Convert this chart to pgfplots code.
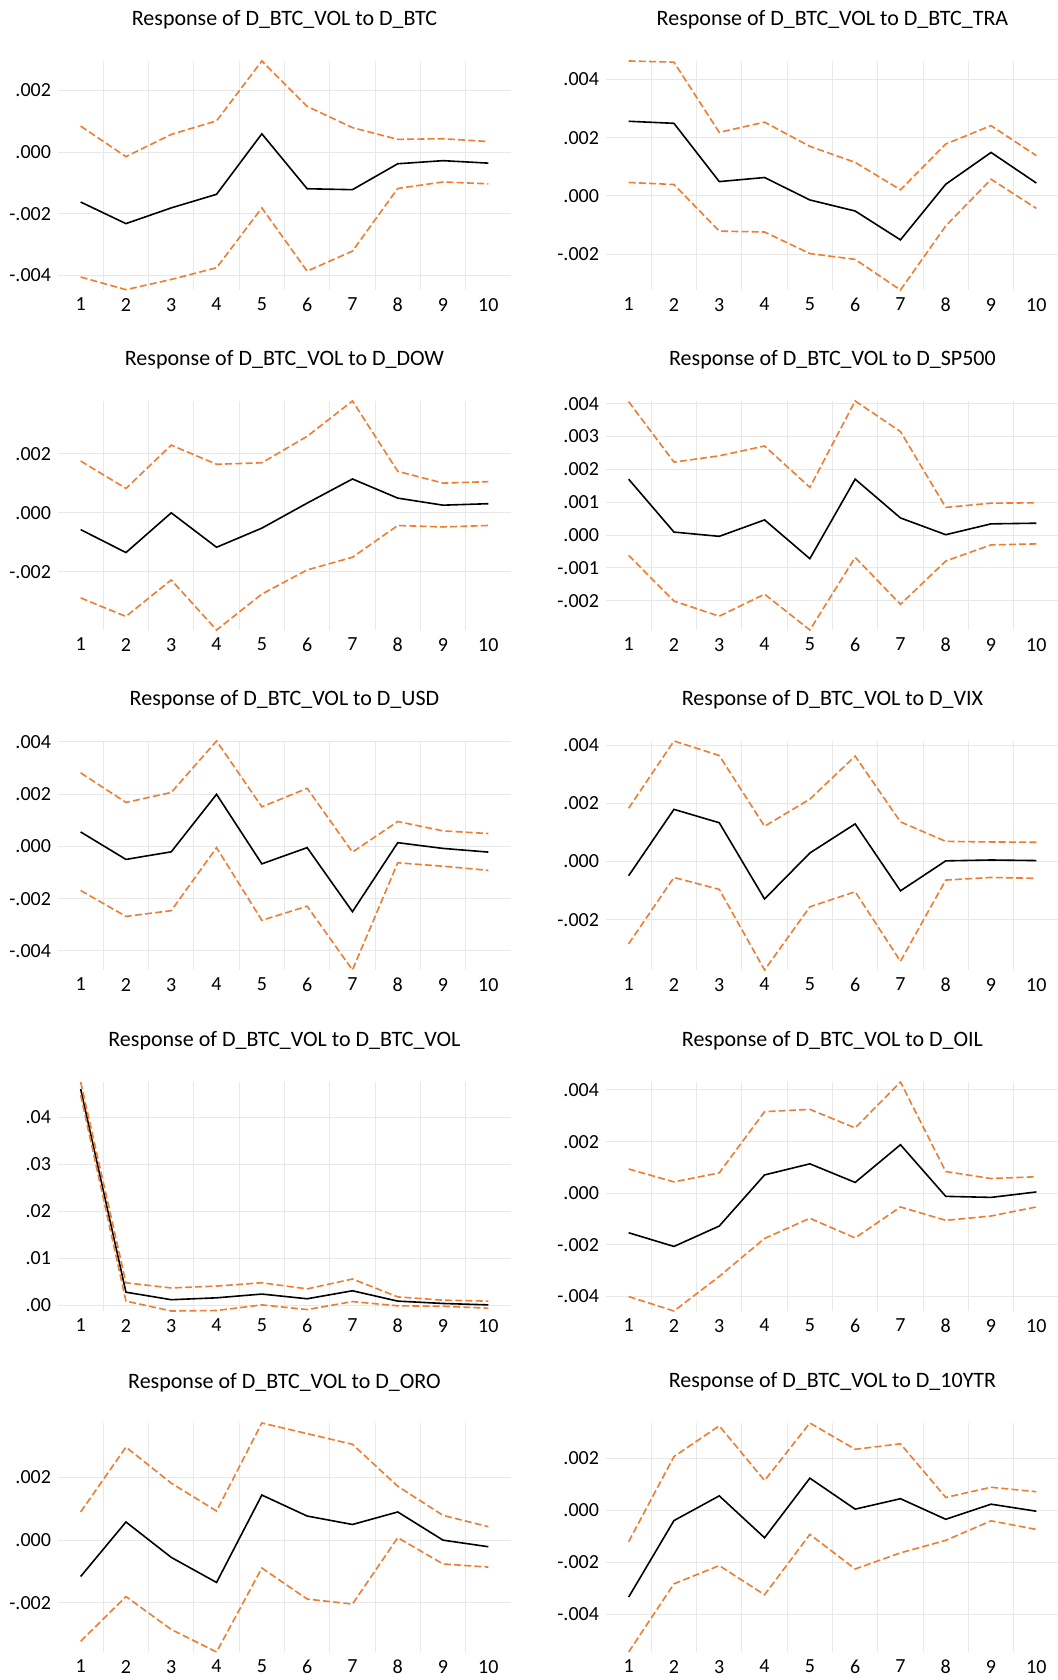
\documentclass[border=0pt]{standalone}
\usepackage{fontspec}
\setmainfont{Carlito}
\usepackage{pgfplots}
\pgfplotsset{compat=1.18}
\definecolor{irforange}{RGB}{237,125,49}
\pgfplotsset{
 irf/.style={
  scale only axis, width=226.5pt, height=114.5pt,
  xmin=0.5, xmax=10.5,
  scaled y ticks=false, scaled x ticks=false,
  xtick={1,2,3,4,5,6,7,8,9,10}, xticklabels={1,2,3,4,5,6,7,8,9,10},
  minor xtick={1.5,2.5,3.5,4.5,5.5,6.5,7.5,8.5,9.5},
  xminorgrids, ymajorgrids,
  major grid style={draw=black!9, line width=0.5pt},
  minor grid style={draw=black!9, line width=0.5pt},
  axis line style={draw=none},
  major tick length=0pt, minor tick length=0pt,
  tick style={draw=none},
  ticklabel style={font=\fontsize{10}{12}\selectfont},
  yticklabel style={anchor=east, xshift=0pt},
  xticklabel style={anchor=north, yshift=-0.5pt},
  title style={at={(0.5,1)}, anchor=base, yshift=11.5pt, font=\fontsize{11}{13}\selectfont},
  extra y ticks={0}, extra y tick labels={},
  extra y tick style={grid style={draw=black!28, line width=0.8pt}},
  clip=false,
 },
 resp/.style={black, line width=0.8pt, no marks},
 band/.style={irforange, line width=0.8pt, no marks, dash pattern=on 3.5pt off 1.6pt},
}
\begin{document}
\begin{tikzpicture}
\useasboundingbox (0,0) rectangle (528.5pt,840pt);
% Row 1 left: D_BTC
\begin{axis}[irf, at={(29pt,695pt)}, anchor=south west,
  title={Response of D\_BTC\_VOL to D\_BTC},
  ymin=-0.00447, ymax=0.00295,
  ytick={-0.004,-0.002,0,0.002}, yticklabels={-.004,-.002,.000,.002}]
\addplot[resp] coordinates {(1,-0.00162) (2,-0.00232) (3,-0.00181) (4,-0.00137) (5,0.00059) (6,-0.00119) (7,-0.00122) (8,-0.00038) (9,-0.00028) (10,-0.00036)};
\addplot[band] coordinates {(1,0.00084) (2,-0.00015) (3,0.00057) (4,0.00101) (5,0.00295) (6,0.00148) (7,0.00079) (8,0.00041) (9,0.00043) (10,0.00034)};
\addplot[band] coordinates {(1,-0.00405) (2,-0.00446) (3,-0.00413) (4,-0.00375) (5,-0.00181) (6,-0.00386) (7,-0.00321) (8,-0.00118) (9,-0.00097) (10,-0.00103)};
\end{axis}
% Row 1 right: D_BTC_TRA
\begin{axis}[irf, at={(303pt,695pt)}, anchor=south west,
  title={Response of D\_BTC\_VOL to D\_BTC\_TRA},
  ymin=-0.00323, ymax=0.00463,
  ytick={-0.002,0,0.002,0.004}, yticklabels={-.002,.000,.002,.004}]
\addplot[resp] coordinates {(1,0.00256) (2,0.00249) (3,0.00049) (4,0.00063) (5,-0.00014) (6,-0.00052) (7,-0.00151) (8,0.00040) (9,0.00149) (10,0.00044)};
\addplot[band] coordinates {(1,0.00463) (2,0.00459) (3,0.00218) (4,0.00253) (5,0.00170) (6,0.00115) (7,0.00021) (8,0.00178) (9,0.00241) (10,0.00138)};
\addplot[band] coordinates {(1,0.00046) (2,0.00039) (3,-0.00121) (4,-0.00124) (5,-0.00198) (6,-0.00218) (7,-0.00323) (8,-0.00103) (9,0.00057) (10,-0.00043)};
\end{axis}
% Row 2 left: D_DOW
\begin{axis}[irf, at={(29pt,525pt)}, anchor=south west,
  title={Response of D\_BTC\_VOL to D\_DOW},
  ymin=-0.00398, ymax=0.00380,
  ytick={-0.002,0,0.002}, yticklabels={-.002,.000,.002}]
\addplot[resp] coordinates {(1,-0.00057) (2,-0.00135) (3,0.0) (4,-0.00117) (5,-0.00052) (6,0.00033) (7,0.00115) (8,0.00050) (9,0.00026) (10,0.00031)};
\addplot[band] coordinates {(1,0.00176) (2,0.00083) (3,0.00230) (4,0.00165) (5,0.00170) (6,0.00260) (7,0.00380) (8,0.00141) (9,0.00101) (10,0.00106)};
\addplot[band] coordinates {(1,-0.00289) (2,-0.00352) (3,-0.00228) (4,-0.00398) (5,-0.00276) (6,-0.00194) (7,-0.00151) (8,-0.00043) (9,-0.00048) (10,-0.00043)};
\end{axis}
% Row 2 right: D_SP500
\begin{axis}[irf, at={(303pt,525pt)}, anchor=south west,
  title={Response of D\_BTC\_VOL to D\_SP500},
  ymin=-0.00289, ymax=0.00408,
  ytick={-0.002,-0.001,0,0.001,0.002,0.003,0.004}, yticklabels={-.002,-.001,.000,.001,.002,.003,.004}]
\addplot[resp] coordinates {(1,0.00170) (2,0.00009) (3,-0.00004) (4,0.00046) (5,-0.00072) (6,0.00170) (7,0.00052) (8,0.00001) (9,0.00034) (10,0.00036)};
\addplot[band] coordinates {(1,0.00406) (2,0.00222) (3,0.00241) (4,0.00271) (5,0.00145) (6,0.00408) (7,0.00315) (8,0.00084) (9,0.00097) (10,0.00098)};
\addplot[band] coordinates {(1,-0.00062) (2,-0.00201) (3,-0.00247) (4,-0.00180) (5,-0.00289) (6,-0.00068) (7,-0.00211) (8,-0.00079) (9,-0.00030) (10,-0.00027)};
\end{axis}
% Row 3 left: D_USD
\begin{axis}[irf, at={(29pt,355pt)}, anchor=south west,
  title={Response of D\_BTC\_VOL to D\_USD},
  ymin=-0.00473, ymax=0.00403,
  ytick={-0.004,-0.002,0,0.002,0.004}, yticklabels={-.004,-.002,.000,.002,.004}]
\addplot[resp] coordinates {(1,0.00055) (2,-0.00050) (3,-0.00021) (4,0.00199) (5,-0.00067) (6,-0.00005) (7,-0.00250) (8,0.00014) (9,-0.00008) (10,-0.00022)};
\addplot[band] coordinates {(1,0.00281) (2,0.00168) (3,0.00206) (4,0.00403) (5,0.00151) (6,0.00222) (7,-0.00022) (8,0.00095) (9,0.00059) (10,0.00049)};
\addplot[band] coordinates {(1,-0.00169) (2,-0.00268) (3,-0.00246) (4,-0.00005) (5,-0.00283) (6,-0.00229) (7,-0.00473) (8,-0.00063) (9,-0.00076) (10,-0.00092)};
\end{axis}
% Row 3 right: D_VIX
\begin{axis}[irf, at={(303pt,355pt)}, anchor=south west,
  title={Response of D\_BTC\_VOL to D\_VIX},
  ymin=-0.00373, ymax=0.00414,
  ytick={-0.002,0,0.002,0.004}, yticklabels={-.002,.000,.002,.004}]
\addplot[resp] coordinates {(1,-0.00049) (2,0.00179) (3,0.00133) (4,-0.00129) (5,0.00029) (6,0.00129) (7,-0.00101) (8,0.00002) (9,0.00005) (10,0.00003)};
\addplot[band] coordinates {(1,0.00183) (2,0.00414) (3,0.00364) (4,0.00121) (5,0.00214) (6,0.00362) (7,0.00136) (8,0.00069) (9,0.00067) (10,0.00066)};
\addplot[band] coordinates {(1,-0.00283) (2,-0.00055) (3,-0.00096) (4,-0.00373) (5,-0.00156) (6,-0.00104) (7,-0.00343) (8,-0.00064) (9,-0.00055) (10,-0.00058)};
\end{axis}
% Row 4 left: D_BTC_VOL
\begin{axis}[irf, at={(29pt,184.5pt)}, anchor=south west,
  title={Response of D\_BTC\_VOL to D\_BTC\_VOL},
  ymin=-0.0012, ymax=0.0475,
  ytick={0,0.01,0.02,0.03,0.04}, yticklabels={.00,.01,.02,.03,.04}]
\addplot[resp] coordinates {(1,0.0460) (2,0.0028) (3,0.0012) (4,0.0016) (5,0.0024) (6,0.0014) (7,0.0031) (8,0.0009) (9,0.0004) (10,0.0001)};
\addplot[band] coordinates {(1,0.0475) (2,0.0048) (3,0.0037) (4,0.0041) (5,0.0048) (6,0.0035) (7,0.0056) (8,0.0018) (9,0.0011) (10,0.0009)};
\addplot[band] coordinates {(1,0.0447) (2,0.0009) (3,-0.0012) (4,-0.0011) (5,0.0001) (6,-0.0009) (7,0.0008) (8,-0.0001) (9,-0.0002) (10,-0.0006)};
\end{axis}
% Row 4 right: D_OIL
\begin{axis}[irf, at={(303pt,184.5pt)}, anchor=south west,
  title={Response of D\_BTC\_VOL to D\_OIL},
  ymin=-0.00456, ymax=0.00431,
  ytick={-0.004,-0.002,0,0.002,0.004}, yticklabels={-.004,-.002,.000,.002,.004}]
\addplot[resp] coordinates {(1,-0.00153) (2,-0.00206) (3,-0.00127) (4,0.00071) (5,0.00114) (6,0.00042) (7,0.00188) (8,-0.00012) (9,-0.00016) (10,0.00005)};
\addplot[band] coordinates {(1,0.00094) (2,0.00044) (3,0.00079) (4,0.00316) (5,0.00325) (6,0.00253) (7,0.00431) (8,0.00084) (9,0.00057) (10,0.00064)};
\addplot[band] coordinates {(1,-0.00400) (2,-0.00456) (3,-0.00322) (4,-0.00175) (5,-0.00097) (6,-0.00173) (7,-0.00053) (8,-0.00105) (9,-0.00088) (10,-0.00053)};
\end{axis}
% Row 5 left: D_ORO
\begin{axis}[irf, at={(29pt,14pt)}, anchor=south west,
  title={Response of D\_BTC\_VOL to D\_ORO},
  ymin=-0.00357, ymax=0.00374,
  ytick={-0.002,0,0.002}, yticklabels={-.002,.000,.002}]
\addplot[resp] coordinates {(1,-0.00116) (2,0.00058) (3,-0.00055) (4,-0.00135) (5,0.00144) (6,0.00077) (7,0.00050) (8,0.00090) (9,0.0) (10,-0.00021)};
\addplot[band] coordinates {(1,0.00090) (2,0.00297) (3,0.00182) (4,0.00093) (5,0.00374) (6,0.00340) (7,0.00306) (8,0.00172) (9,0.00079) (10,0.00043)};
\addplot[band] coordinates {(1,-0.00323) (2,-0.00180) (3,-0.00285) (4,-0.00357) (5,-0.00089) (6,-0.00188) (7,-0.00204) (8,0.00008) (9,-0.00076) (10,-0.00086)};
\end{axis}
% Row 5 right: D_10YTR
\begin{axis}[irf, at={(303pt,14pt)}, anchor=south west,
  title={Response of D\_BTC\_VOL to D\_10YTR},
  ymin=-0.00545, ymax=0.00335,
  ytick={-0.004,-0.002,0,0.002}, yticklabels={-.004,-.002,.000,.002}]
\addplot[resp] coordinates {(1,-0.00334) (2,-0.00040) (3,0.00055) (4,-0.00106) (5,0.00123) (6,0.00004) (7,0.00044) (8,-0.00035) (9,0.00023) (10,-0.00004)};
\addplot[band] coordinates {(1,-0.00121) (2,0.00206) (3,0.00324) (4,0.00114) (5,0.00335) (6,0.00234) (7,0.00255) (8,0.00049) (9,0.00088) (10,0.00071)};
\addplot[band] coordinates {(1,-0.00545) (2,-0.00283) (3,-0.00213) (4,-0.00325) (5,-0.00093) (6,-0.00226) (7,-0.00164) (8,-0.00116) (9,-0.00041) (10,-0.00074)};
\end{axis}
\end{tikzpicture}
\end{document}
